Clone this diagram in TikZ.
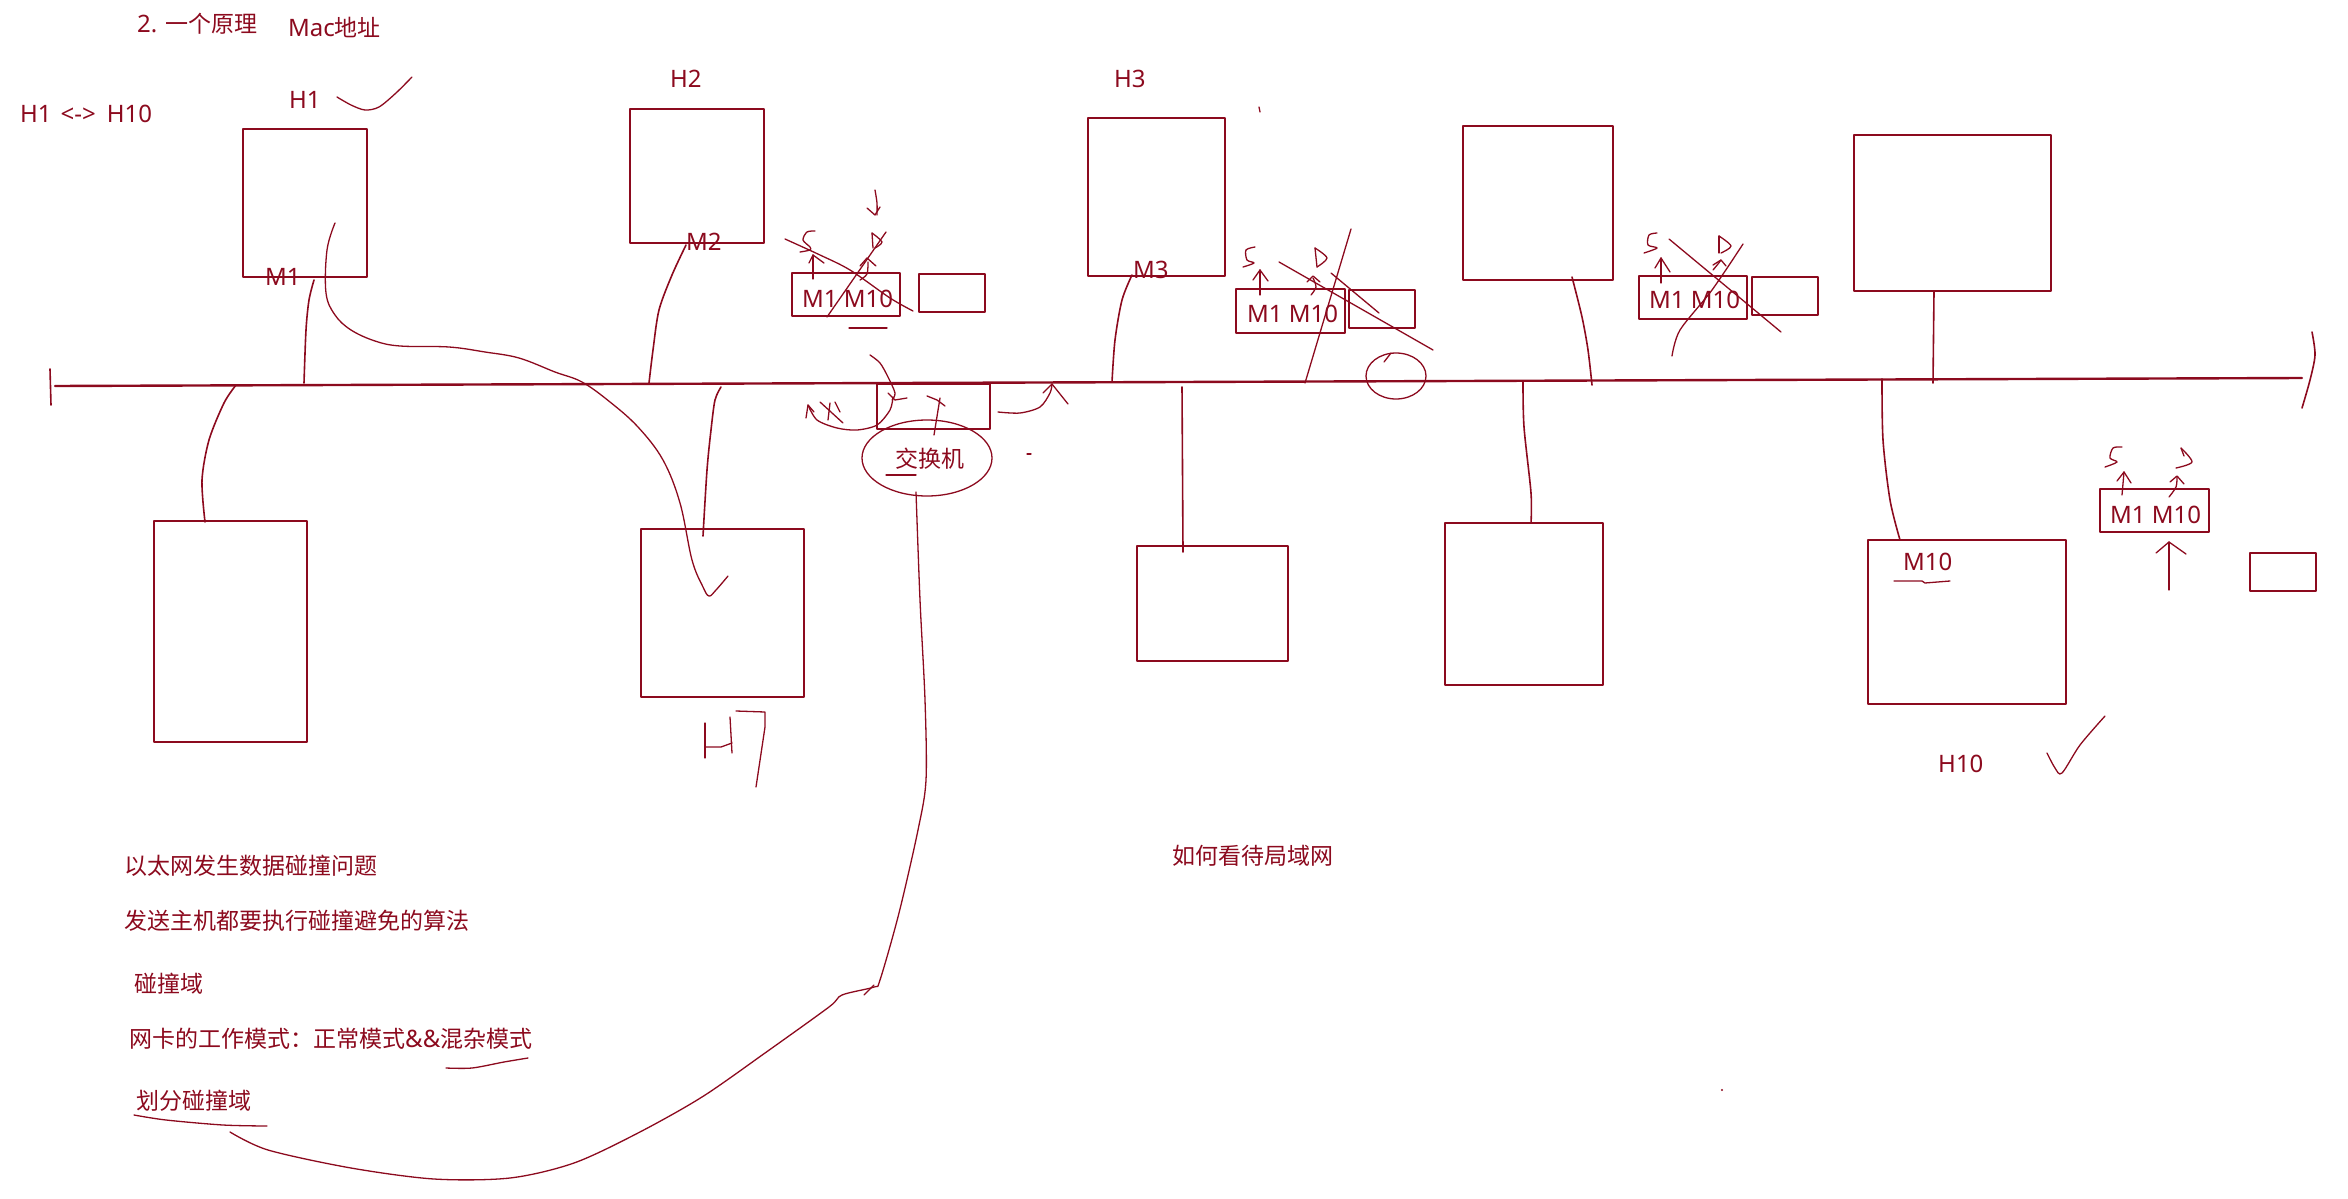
\documentclass[tikz,border=0pt]{standalone}
\usepackage{fontspec}
\setmainfont{Noto Sans}
\newfontfamily\cjk{Noto Sans CJK SC}
\definecolor{ink}{HTML}{8C0A1E}
\newcommand\zh[1]{{\cjk\fontsize{23}{28}\selectfont #1}}
\begin{document}
\begin{tikzpicture}[x=1pt,y=-1pt, line join=round, line cap=round,
  box/.style={draw=ink, line width=2pt, inner sep=0pt, anchor=north west},
  pen/.style={draw=ink, line width=1.6pt},
  thin/.style={draw=ink, line width=1.3pt},
  lbl/.style={text=ink, font=\fontsize{24}{28}\selectfont, inner sep=0pt, anchor=base west}]
\useasboundingbox (0,0) rectangle (2348,1199);

% ---------- boxes (hosts) ----------
\node[box, minimum width=124pt, minimum height=148pt] (h1) at (242,128) {};
\node[box, minimum width=134pt, minimum height=134pt] (h2) at (629,108) {};
\node[box, minimum width=137pt, minimum height=158pt] (h3) at (1087,117) {};
\node[box, minimum width=150pt, minimum height=154pt] (h4) at (1462,125) {};
\node[box, minimum width=197pt, minimum height=156pt] (h5) at (1853,134) {};
\node[box, minimum width=153pt, minimum height=221pt] (b1) at (153,520) {};
\node[box, minimum width=163pt, minimum height=168pt] (h7) at (640,528) {};
\node[box, minimum width=151pt, minimum height=115pt] (b3) at (1136,545) {};
\node[box, minimum width=158pt, minimum height=162pt] (b6) at (1444,522) {};
\node[box, minimum width=198pt, minimum height=164pt] (h10) at (1867,539) {};
% switch tables
\node[box, line width=1.6pt, minimum width=108pt, minimum height=43pt] (s1) at (791,272) {};
\node[box, line width=1.6pt, minimum width=66pt, minimum height=38pt] (e1) at (918,273) {};
\node[box, line width=1.6pt, minimum width=109pt, minimum height=44pt] (s2) at (1235,288) {};
\node[box, line width=1.6pt, minimum width=66pt, minimum height=38pt] (e2) at (1348,289) {};
\node[box, line width=1.6pt, minimum width=108pt, minimum height=43pt] (s3) at (1638,275) {};
\node[box, line width=1.6pt, minimum width=66pt, minimum height=38pt] (e3) at (1751,276) {};
\node[box, line width=1.6pt, minimum width=109pt, minimum height=43pt] (s4) at (2099,488) {};
\node[box, line width=1.6pt, minimum width=66pt, minimum height=38pt] (e4) at (2249,552) {};
% switch on the bus
\node[box, line width=1.6pt, minimum width=113pt, minimum height=45pt] (sw) at (876,383) {};

% ---------- bus ----------
\coordinate (busL) at (55,386);
\coordinate (busR) at (2302,378);
\draw[pen, line width=2.4pt] (busL) -- (busR);
\draw[pen] (50,369) -- (51,405);
\draw[pen] plot[smooth] coordinates {(2312,332)(2315,355)(2310,380)(2302,408)};

% ---------- texts ----------
\node[lbl] (t1) at (137,33) {2. \zh{一个原理}};
\node[lbl] (t2) at (288,37) {Mac\zh{地址}};
\node[lbl] (t3) at (20,122) {H1\hspace{9pt}<->\hspace{11pt}H10};
\node[lbl] (lh1) at (289,108) {H1};
\node[lbl] (lh2) at (670,88) {H2};
\node[lbl] (lh3) at (1114,88) {H3};
\node[lbl] (lm1) at (265,285) {M1};
\node[lbl] (lm2) at (686,250) {M2};
\node[lbl] (lm3) at (1133,278) {M3};
\node[lbl] (ts1) at (802,307) {M1 M10};
\node[lbl] (ts2) at (1247,322) {M1 M10};
\node[lbl] (ts3) at (1649,308) {M1 M10};
\node[lbl] (ts4) at (2110,523) {M1 M10};
\node[lbl] (lm10) at (1903,570) {M10};
\node[lbl] (lh10) at (1938,772) {H10};
\node[lbl] (tsw) at (895,467) {\zh{交换机}};
\node[lbl] (tlan) at (1172,864) {\zh{如何看待局域网}};
\node[lbl] (n1) at (124,874) {\zh{以太网发生数据碰撞问题}};
\node[lbl] (n2) at (124,929) {\zh{发送主机都要执行碰撞避免的算法}};
\node[lbl] (n3) at (134,992) {\zh{碰撞域}};
\node[lbl] (n4) at (129,1047) {\zh{网卡的工作模式：正常模式}\&\&\zh{混杂模式}};
\node[lbl] (n5) at (136,1109) {\zh{划分碰撞域}};

% ---------- drops from hosts to bus ----------
\draw[pen] plot[smooth] coordinates {(314,280)(309,300)(306,330)(304,383)};
\draw[pen] plot[smooth] coordinates {(686,245)(672,275)(659,310)(653,350)(649,383)};
\draw[pen] plot[smooth] coordinates {(1132,275)(1122,300)(1115,340)(1112,382)};
\draw[pen] plot[smooth] coordinates {(1572,277)(1582,317)(1588,350)(1592,385)};
\draw[pen] (1934,291) -- (1933,383);
\draw[pen] plot[smooth] coordinates {(236,385)(224,403)(209,440)(202,480)(205,522)};
\draw[pen] plot[smooth] coordinates {(721,387)(715,400)(711,430)(707,470)(703,536)};
\draw[pen] (1182,387) -- (1183,552);
\draw[pen] plot[smooth] coordinates {(1523,382)(1524,427)(1531,493)(1531,523)};
\draw[pen] plot[smooth] coordinates {(1882,379)(1883,440)(1890,500)(1900,540)};

% ---------- long curve H1 -> H7 ----------
\draw[thin] plot[smooth, tension=0.6] coordinates {(335,223)(327,250)(326,293)(335,315)(351,330)(375,341)(400,346)(449,347)(485,352)(519,358)(555,372)(582,382)(610,402)(638,427)(663,460)(680,503)(692,560)(703,587)(709,596)(716,590)(728,576)};

% ---------- switch ellipse and long line ----------
\draw[thin] (927,458) ellipse [x radius=65pt, y radius=38pt];
\draw[thin] (886,475) -- (916,475);
\draw[thin] plot[smooth, tension=0.5] coordinates {(916,492)(920,600)(925,700)(926,780)(918,830)(899,913)(880,980)(874,987)(842,995)(829,1007)(765,1053)(702,1097)(638,1133)(574,1163)(510,1178)(434,1179)(351,1168)(268,1150)(230,1132)};
\draw[thin] (874,985) -- (864,995);
\draw[thin] (940,398) -- (934,435);
\draw[thin] (927,396) -- (937,400) -- (945,406);
% arrow from above into switch
\draw[thin] plot[smooth] coordinates {(870,355)(880,363)(888,377)(895,393)(892,400)};
\draw[thin] (888,393) -- (895,400) -- (907,398);
% left curved arrow
\draw[thin] plot[smooth] coordinates {(893,397)(890,410)(877,425)(857,430)(837,428)(817,420)(808,405)};
\draw[thin] (806,418) -- (808,405) -- (814,412);
\draw[thin] (820,402) -- (843,423);
\draw[thin] (830,403) -- (828,420);
\draw[thin] (835,402) -- (840,412);
% right curved arrow
\draw[thin] plot[smooth] coordinates {(998,412)(1020,413)(1040,407)(1050,393)(1052,384)};
\draw[thin] (1043,393) -- (1052,384) -- (1068,404);
\draw[thin] (1027,454) -- (1031,454);

% ---------- marks on switch table 1 ----------
\draw[thin] plot[smooth] coordinates {(815,231)(807,232)(803,240)(810,247)(810,250)(800,252)};
\draw[thin] (813,279) -- (813,255);
\draw[thin] (809,263) -- (813,255) -- (824,263);
\draw[thin] (872,233) -- (873,248);
\draw[thin] plot[smooth] coordinates {(872,233)(882,242)(875,248)};
\draw[thin] plot[smooth] coordinates {(860,280)(867,274)(868,262)};
\draw[thin] (860,266) -- (867,258) -- (876,266);
\draw[thin] plot[smooth] coordinates {(785,239)(820,255)(850,270)(890,298)(913,311)};
\draw[thin] (886,232) -- (827,317);
\draw[thin] plot[smooth] coordinates {(875,190)(877,203)(877,215)};
\draw[thin] (867,208) -- (875,215) -- (880,207);
\draw[thin] (849,328) -- (887,328);

% ---------- marks on switch table 2 ----------
\draw[thin] plot[smooth] coordinates {(1255,247)(1246,250)(1247,260)(1254,263)(1243,267)};
\draw[thin] (1260,295) -- (1260,270);
\draw[thin] (1253,280) -- (1260,270) -- (1268,281);
\draw[thin] (1315,248) -- (1317,267);
\draw[thin] plot[smooth] coordinates {(1315,248)(1327,258)(1317,267)};
\draw[thin] plot[smooth] coordinates {(1311,295)(1316,287)(1313,278)};
\draw[thin] (1307,282) -- (1313,276) -- (1320,282);
\draw[thin] (1279,262) -- (1433,350);
\draw[thin] (1351,229) -- (1305,383);
\draw[thin] (1331,273) -- (1379,313);
\draw[thin] (1259,107) -- (1260,112);
\draw[thin] (1396,376) ellipse [x radius=30pt, y radius=23pt];
\draw[thin] (1391,353) -- (1384,362);

% ---------- marks on switch table 3 ----------
\draw[thin] plot[smooth] coordinates {(1657,233)(1649,235)(1648,245)(1657,248)(1644,253)};
\draw[thin] (1661,283) -- (1661,258);
\draw[thin] (1655,268) -- (1661,258) -- (1670,272);
\draw[thin] (1719,236) -- (1719,253);
\draw[thin] plot[smooth] coordinates {(1719,236)(1731,246)(1721,253)};
\draw[thin] plot[smooth] coordinates {(1713,270)(1718,264)(1721,260)};
\draw[thin] (1713,265) -- (1721,260) -- (1726,266);
\draw[thin] (1669,239) -- (1781,332);
\draw[thin] plot[smooth] coordinates {(1743,244)(1712,290)(1680,330)(1672,356)};

% ---------- marks on switch table 4 ----------
\draw[thin] plot[smooth] coordinates {(2122,447)(2113,448)(2110,458)(2117,462)(2105,467)};
\draw[thin] (2122,495) -- (2124,472);
\draw[thin] (2117,481) -- (2124,472) -- (2131,483);
\draw[thin] (2181,448) -- (2184,456);
\draw[thin] plot[smooth] coordinates {(2181,448)(2192,462)(2176,468)};
\draw[thin] plot[smooth] coordinates {(2169,497)(2176,487)(2177,477)};
\draw[thin] (2170,482) -- (2177,476) -- (2184,484);
\draw[thin] (2169,590) -- (2169,542);
\draw[thin] (2156,553) -- (2169,542) -- (2186,554);

% ---------- M10 / H10 ----------
\draw[thin] (1894,581) -- (1922,581) -- (1925,583) -- (1950,581);
\draw[thin] plot[smooth] coordinates {(2047,753)(2055,768)(2062,773)(2080,745)(2105,716)};

% ---------- H1 check ----------
\draw[thin] plot[smooth] coordinates {(337,97)(351,105)(365,110)(379,107)(396,93)(412,77)};

% ---------- H7 handwriting ----------
\draw[thin] (705,723) -- (705,758);
\draw[thin] (705,747) -- (721,747) -- (732,743);
\draw[thin] (730,717) -- (732,753);
\draw[thin] (736,711) -- (765,712) -- (765,727) -- (756,787);

% ---------- underlines of notes ----------
\draw[thin] plot[smooth] coordinates {(446,1068)(472,1068)(504,1062)(528,1058)};
\draw[thin] plot[smooth] coordinates {(134,1115)(166,1120)(223,1125)(267,1126)};
\fill[ink] (1722,1090) circle (1.2pt);
\end{tikzpicture}
\end{document}
